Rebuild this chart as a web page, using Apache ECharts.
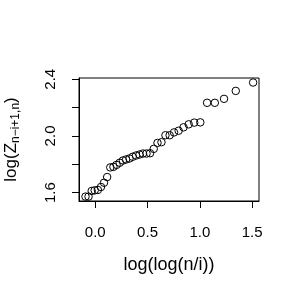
<!DOCTYPE html>
<html><head><meta charset="utf-8">
<script src="https://cdn.jsdelivr.net/npm/echarts@6/dist/echarts.min.js"></script>
<style>html,body{margin:0;padding:0;background:#fff}#c{width:300px;height:300px}</style>
</head><body><div id="c"></div>
<script>
const xValues = [-0.093, -0.064, -0.034, -0.005, 0.025, 0.055, 0.084, 0.114, 0.144, 0.174, 0.204, 0.234, 0.265, 0.295, 0.327, 0.358, 0.390, 0.423, 0.456, 0.490, 0.524, 0.559, 0.595, 0.633, 0.671, 0.711, 0.753, 0.797, 0.844, 0.893, 0.946, 1.004, 1.069, 1.143, 1.231, 1.343, 1.509];
const yValues = [1.572, 1.572, 1.612, 1.616, 1.619, 1.640, 1.670, 1.710, 1.778, 1.782, 1.796, 1.811, 1.827, 1.834, 1.841, 1.853, 1.862, 1.869, 1.876, 1.876, 1.878, 1.909, 1.951, 1.956, 2.005, 2.005, 2.025, 2.037, 2.061, 2.082, 2.094, 2.096, 2.234, 2.234, 2.262, 2.318, 2.377];
const xTicks = [0, 0.5, 1.0, 1.5];
const yTicks = [1.6, 1.8, 2.0, 2.2, 2.4];
const yTickLabels = [1.6, 2.0, 2.4];
const xTitle = 'log(log(n/i))';
const yTitleMain = 'log(Z';
const yTitleSub = 'n\u2212i+1,n';

const FONT = 'Liberation Sans';
const points = xValues.map((x, i) => [x, yValues[i]]);
const chart = echarts.init(document.getElementById('c'), null, {renderer: 'canvas'});
chart.setOption({
  animation: false,
  backgroundColor: '#fff',
  grid: {left: 79, right: 41, top: 78, bottom: 99, show: true, borderColor: '#000', borderWidth: 1, backgroundColor: 'transparent', containLabel: false, outerBoundsMode: 'none'},
  xAxis: {
    type: 'value', min: -0.155, max: 1.565,
    axisLine: {show: true, onZero: false, lineStyle: {color: '#000', width: 1}},
    axisTick: {show: true, customValues: xTicks, length: 7, lineStyle: {color: '#000', width: 1}},
    axisLabel: {show: true, customValues: xTicks, formatter: v => v.toFixed(1), fontSize: 15, color: '#000', fontFamily: FONT, margin: 24},
    splitLine: {show: false},
    name: xTitle, nameLocation: 'middle', nameGap: 55,
    nameTextStyle: {fontSize: 18, color: '#000', fontFamily: FONT}
  },
  yAxis: {
    type: 'value', min: 1.541, max: 2.409,
    axisLine: {show: true, onZero: false, lineStyle: {color: '#000', width: 1}},
    axisTick: {show: true, customValues: yTicks, length: 7, lineStyle: {color: '#000', width: 1}},
    axisLabel: {show: true, customValues: yTickLabels, formatter: v => v.toFixed(1), fontSize: 15, color: '#000', fontFamily: FONT, margin: 21, rotate: 90},
    splitLine: {show: false},
    name: '{m|' + yTitleMain + '}{s|' + yTitleSub + '}{m|)}', nameLocation: 'middle', nameGap: 57, nameRotate: 90,
    nameTextStyle: {color: '#000', fontFamily: FONT, fontSize: 17,
      rich: {m: {fontSize: 17, color: '#000', fontFamily: FONT}, s: {fontSize: 12, color: '#000', fontFamily: FONT, padding: [10, 0, 0, 0]}}}
  },
  series: [{
    type: 'scatter', data: points, symbol: 'circle', symbolSize: 7.5,
    itemStyle: {color: 'rgba(0,0,0,0)', borderColor: '#000', borderWidth: 1, opacity: 1},
    emphasis: {disabled: true}
  }]
});
</script>
</body></html>
